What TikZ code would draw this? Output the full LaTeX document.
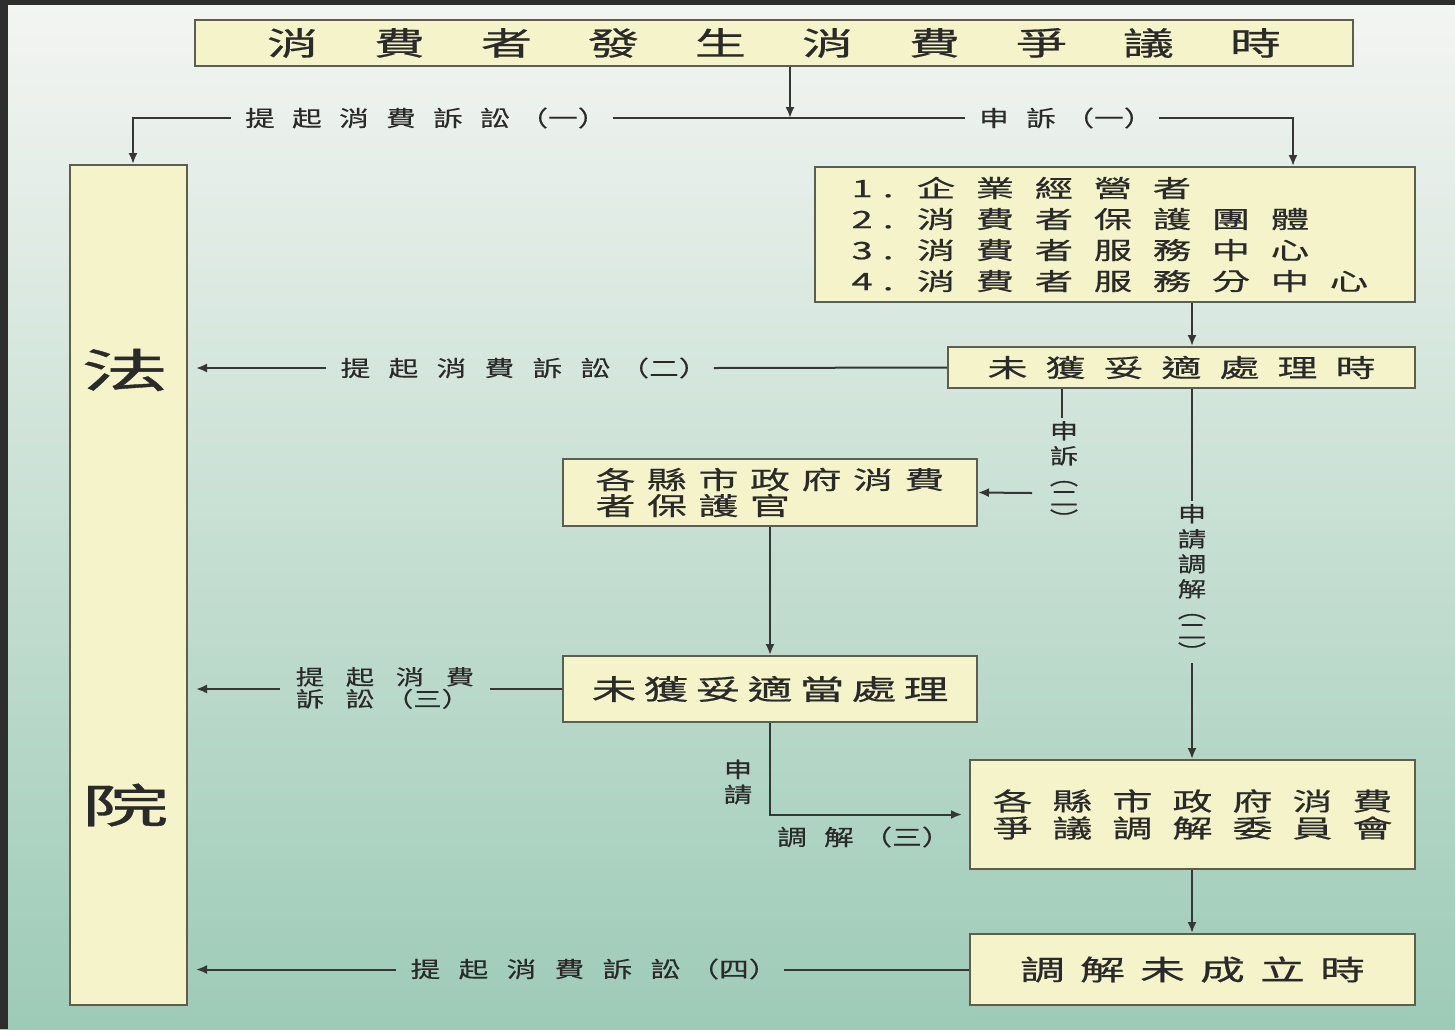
\documentclass[tikz,border=0pt]{standalone}
\usepackage{fontspec}
\usetikzlibrary{arrows.meta}
\newfontfamily\cjkB[FakeStretch=1.6,FakeBold=0.6]{Noto Sans CJK TC}
\newfontfamily\cjkL[FakeStretch=1.35,FakeBold=0.3]{Noto Sans CJK TC}
\newfontfamily\cjkC[FakeStretch=1.9,FakeBold=0.8]{Noto Sans CJK TC}
\definecolor{boxfill}{HTML}{F5F3C9}
\definecolor{boxline}{HTML}{5C5E50}
\definecolor{linec}{HTML}{363636}
\definecolor{txt}{HTML}{2A2A2A}
\definecolor{frame}{HTML}{2E2E2E}
\definecolor{bgtop}{HTML}{F4F5F2}
\definecolor{bgmid}{HTML}{C9DCD3}
\definecolor{bgbot}{HTML}{9DCBB7}
\makeatletter
\newcommand\spc[2]{\@tfor\spcx:=#2\do{\makebox[#1]{\spcx}}}
\makeatother
\tikzset{
  box/.style={draw=boxline, line width=1pt, fill=boxfill, inner sep=0pt, text=txt},
  lab/.style={inner sep=2.5pt, text=txt, font=\cjkL\fontsize{11}{13}\selectfont},
  vlab/.style={inner sep=1.5pt, text=txt, align=center, font=\cjkL\fontsize{10.5}{12.5}\selectfont},
  conn/.style={draw=linec, line width=1pt},
  arr/.style={conn, -{Latex[length=5.5pt,width=4.5pt]}},
}
\begin{document}
\begin{tikzpicture}[x=0.5pt, y=-0.5pt]
\useasboundingbox (0,0) rectangle (1455,1029);
\shade[top color=bgtop, middle color=bgmid, bottom color=bgbot] (0,0) rectangle (1455,1029);
\fill[frame] (0,0) rectangle (1455,5);
\fill[frame] (0,0) rectangle (8,1029);

% coordinates
\coordinate (jt) at (790,118);
\coordinate (jl) at (133,118);
\coordinate (jr) at (1293,118);
\coordinate (colR) at (1192,0);
\coordinate (colS) at (1062,0);
\coordinate (colM) at (770,0);
\coordinate (a1) at (1032,493);

% boxes
\node[box, minimum width=579pt, minimum height=23pt, font=\cjkB\fontsize{16}{18}\selectfont] (top) at (774,43) {\spc{53.5pt}{消費者發生消費爭議時}};
\node[box, minimum width=58.5pt, minimum height=420pt] (court) at (128.5,585) {};
\node[text=txt, inner sep=0pt, font=\cjkC\fontsize{23}{25}\selectfont] (fa) at (125,370) {法};
\node[text=txt, inner sep=0pt, font=\cjkC\fontsize{23}{25}\selectfont] (yuan) at (125,805) {院};
\node[box, minimum width=300pt, minimum height=67.5pt, align=left, font=\cjkB\fontsize{12}{15.5}\selectfont] (list) at (1115,234.5)
 {\makebox[27.5pt][l]{1\hspace{5pt}.}\spc{29.5pt}{企業經營者}\\
  \makebox[27.5pt][l]{2\hspace{5pt}.}\spc{29.5pt}{消費者保護團體}\\
  \makebox[27.5pt][l]{3\hspace{5pt}.}\spc{29.5pt}{消費者服務中心}\\
  \makebox[27.5pt][l]{4\hspace{5pt}.}\spc{29.5pt}{消費者服務分中心}};
\node[box, minimum width=233.5pt, minimum height=20.5pt, font=\cjkB\fontsize{12.5}{14}\selectfont] (unresA) at (1181.5,367.5) {\spc{29pt}{未獲妥適處理時}};
\node[box, minimum width=207pt, minimum height=33.5pt, align=left, font=\cjkB\fontsize{12.5}{13}\selectfont] (officer) at (770,492.5)
 {\spc{25.75pt}{各縣市政府消費}\\\spc{25.75pt}{者保護官}\hspace{77.25pt}};
\node[box, minimum width=207pt, minimum height=33pt, font=\cjkB\fontsize{14}{16}\selectfont] (unresB) at (770,689) {\spc{26pt}{未獲妥適當處理}};
\node[box, minimum width=222.5pt, minimum height=54.5pt, align=center, font=\cjkB\fontsize{12.5}{13.5}\selectfont] (committee) at (1192.5,814.5)
 {\spc{30pt}{各縣市政府消費}\\\spc{30pt}{爭議調解委員會}};
\node[box, minimum width=222.5pt, minimum height=35.5pt, font=\cjkB\fontsize{14}{16}\selectfont] (fail) at (1192.5,969.5) {\spc{30pt}{調解未成立時}};

% labels
\node[lab] (L1) at (422,118) {\spc{23.5pt}{提起消費訴訟}（一）};
\node[lab] (L2) at (1062,118) {\spc{23.5pt}{申訴}（一）};
\node[lab] (L3) at (520,368) {\spc{24pt}{提起消費訴訟}（二）};
\node[lab] (L4) at (590,969) {\spc{24pt}{提起消費訴訟}（四）};
\node[lab, align=left, font=\cjkL\fontsize{10.5}{11}\selectfont] (L5) at (385,688) {\spc{25pt}{提起消費}\\\spc{25pt}{訴訟}（三）};
\node[lab] (L6) at (860,837) {\spc{23.5pt}{調解}（三）};
\node[vlab] (V1) at (1064,474) {申\\訴\\[-2pt]︵\\[-2pt]二\\[-2pt]︶};
\node[vlab] (V2) at (1192,582) {申\\請\\調\\解\\[-2pt]︵\\[-2pt]二\\[-2pt]︶};
\node[vlab] (V3) at (738,782) {申\\請};

% connectors
\draw[arr] (top.south -| jt) -- (jt);
\draw[conn] (L1.east) -- (L2.west);
\draw[arr] (L1.west) -| (jl |- court.north);
\draw[arr] (L2.east) -| (jr |- list.north);
\draw[arr] (list.south -| colR) -- (unresA.north -| colR);
\draw[conn] (unresA.west) -- (L3.east);
\draw[arr, shorten >=4pt] (L3.west) -- (court.east |- L3.west);
\draw[conn] (unresA.south -| colS) -- (V1.north -| colS);
\draw[arr] (a1) -- (officer.east);
\draw[conn] (unresA.south -| colR) -- (V2.north -| colR);
\draw[arr] (V2.south -| colR) -- (committee.north -| colR);
\draw[arr] (officer.south -| colM) -- (unresB.north -| colM);
\draw[conn] (unresB.west) -- (L5.east |- unresB.west);
\draw[arr, shorten >=4pt] (L5.west |- unresB.west) -- (court.east |- unresB.west);
\draw[arr, shorten >=3.5pt] (unresB.south -| colM) |- (committee.west);
\draw[arr] (committee.south -| colR) -- (fail.north -| colR);
\draw[conn] (fail.west) -- (L4.east |- fail.west);
\draw[arr, shorten >=4pt] (L4.west |- fail.west) -- (court.east |- fail.west);
\end{tikzpicture}
\end{document}
